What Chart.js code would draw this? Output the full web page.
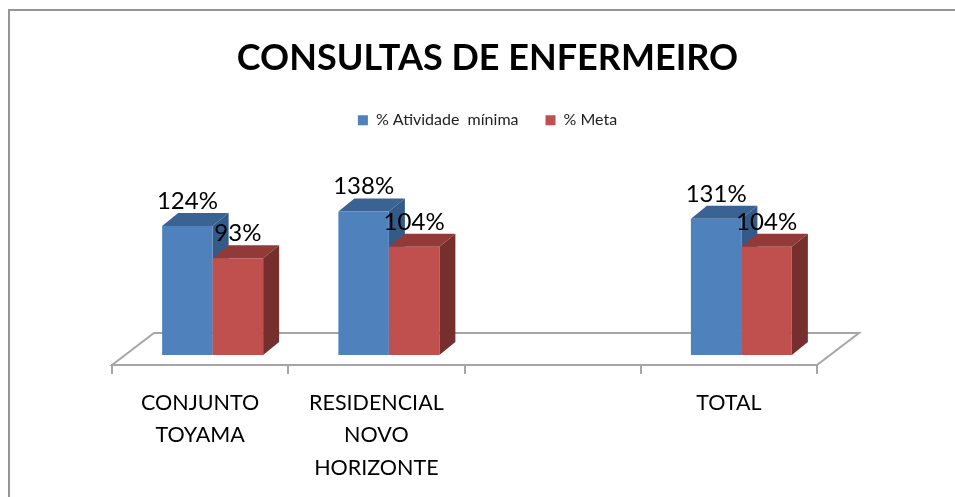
<!DOCTYPE html>
<html>
<head>
<meta charset="utf-8">
<title>Consultas de enfermeiro</title>
<script src="https://cdn.jsdelivr.net/npm/chart.js@4"></script>
<style>
  html, body { margin: 0; padding: 0; background: #fff; overflow: hidden; }
  canvas { display: block; }
</style>
</head>
<body>
<canvas id="chart" width="955" height="497"></canvas>
<script>
const categories = [['CONJUNTO', 'TOYAMA'], ['RESIDENCIAL', 'NOVO', 'HORIZONTE'], '', 'TOTAL'];
const atividadeMinima = [124, 138, null, 131];
const meta = [93, 104, null, 104];
const seriesNames = ['% Atividade  mínima', '% Meta'];

const FONT = 'Lato, "Open Sans", sans-serif';
const GREY = '#a6a6a6';
// fake 3D: depth of the extruded faces and offset of the bars on the floor
const DEPTH_X = 16, DEPTH_Y = 13;
const FLOOR_X = 42, FLOOR_Y = 32;
const SHIFT_X = 12.5, SHIFT_Y = -10;

const faceColors = [
  { top: '#3a6293', side: '#345a88' },
  { top: '#923a38', side: '#772f2e' }
];

function poly(ctx, pts, fill) {
  ctx.beginPath();
  pts.forEach((p, i) => i ? ctx.lineTo(p[0], p[1]) : ctx.moveTo(p[0], p[1]));
  ctx.closePath();
  ctx.fillStyle = fill;
  ctx.fill();
}

const fake3d = {
  id: 'fake3d',
  beforeDraw(chart) {
    // chart frame, cut off by the right and bottom of the picture
    const ctx = chart.ctx;
    ctx.save();
    ctx.strokeStyle = '#969696';
    ctx.lineWidth = 2;
    ctx.strokeRect(9, 10, 960, 500);
    ctx.restore();
  },
  beforeDatasetsDraw(chart) {
    const ctx = chart.ctx;
    const x = chart.scales.x;
    const y0 = chart.scales.y.getPixelForValue(0);
    // floor
    ctx.save();
    ctx.beginPath();
    ctx.moveTo(x.left, y0);
    ctx.lineTo(x.left + FLOOR_X, y0 - FLOOR_Y);
    ctx.lineTo(x.right + FLOOR_X, y0 - FLOOR_Y);
    ctx.lineTo(x.right, y0);
    ctx.closePath();
    ctx.fillStyle = '#fff';
    ctx.fill();
    ctx.strokeStyle = GREY;
    ctx.lineWidth = 2;
    ctx.stroke();
    ctx.restore();

    // everything in the datasets sits a bit inside the floor
    ctx.save();
    ctx.translate(SHIFT_X, SHIFT_Y);
    // chart.js paints the last dataset first, here the red bar has to cover the blue side
    chart.data.datasets.forEach((ds, i) => {
      const barMeta = chart.getDatasetMeta(i);
      barMeta.data.forEach((bar, j) => {
        if (ds.data[j] === null) return;
        const l = bar.x - bar.width / 2, r = bar.x + bar.width / 2;
        poly(ctx, [[l, bar.y], [l + DEPTH_X, bar.y - DEPTH_Y], [r + DEPTH_X, bar.y - DEPTH_Y], [r, bar.y]], faceColors[i].top);
        poly(ctx, [[r, bar.y], [r + DEPTH_X, bar.y - DEPTH_Y], [r + DEPTH_X, bar.base - DEPTH_Y], [r, bar.base]], faceColors[i].side);
      });
      barMeta.controller.draw();
    });
  },
  beforeDatasetDraw() {
    return false; // already painted above
  },
  afterDatasetsDraw(chart) {
    const ctx = chart.ctx;
    ctx.font = '24px ' + FONT;
    ctx.fillStyle = '#000';
    ctx.textAlign = 'center';
    ctx.textBaseline = 'alphabetic';
    chart.data.datasets.forEach((ds, i) => {
      chart.getDatasetMeta(i).data.forEach((bar, j) => {
        if (ds.data[j] === null) return;
        ctx.fillText(ds.data[j] + '%', bar.x, bar.y - 17);
      });
    });
    ctx.restore();
  }
};

new Chart(document.getElementById('chart'), {
  type: 'bar',
  data: {
    labels: categories,
    datasets: [
      { label: seriesNames[0], data: atividadeMinima, backgroundColor: '#4f81bd' },
      { label: seriesNames[1], data: meta, backgroundColor: '#c0504d' }
    ]
  },
  options: {
    responsive: false,
    animation: false,
    categoryPercentage: 0.573,
    barPercentage: 1,
    layout: { padding: { left: 20 } },
    plugins: {
      tooltip: { enabled: false },
      title: {
        display: true,
        text: 'CONSULTAS DE ENFERMEIRO',
        color: '#000',
        font: { family: FONT, size: 36, weight: 'bold' },
        padding: { top: 37, bottom: 5 }
      },
      legend: {
        position: 'top',
        labels: {
          boxWidth: 10,
          boxHeight: 10,
          padding: 27,
          color: '#222',
          font: { family: FONT, size: 16 }
        }
      }
    },
    scales: {
      x: {
        grid: { drawOnChartArea: false, color: GREY, tickLength: 9, lineWidth: 2 },
        border: { color: GREY, width: 2 },
        ticks: {
          color: '#000',
          font: { family: FONT, size: 21.5, lineHeight: 1.5 },
          padding: 13,
          maxRotation: 0,
          autoSkip: false
        },
        afterFit(scale) { scale.height = 132; }
      },
      y: {
        min: 0,
        max: 218,
        grid: { display: false },
        border: { display: false },
        ticks: { display: false },
        afterFit(scale) { scale.width = 92; }
      },
      yRight: {
        position: 'right',
        grid: { display: false },
        border: { display: false },
        ticks: { display: false },
        afterFit(scale) { scale.width = 138; }
      }
    }
  },
  plugins: [fake3d]
});
</script>
</body>
</html>
